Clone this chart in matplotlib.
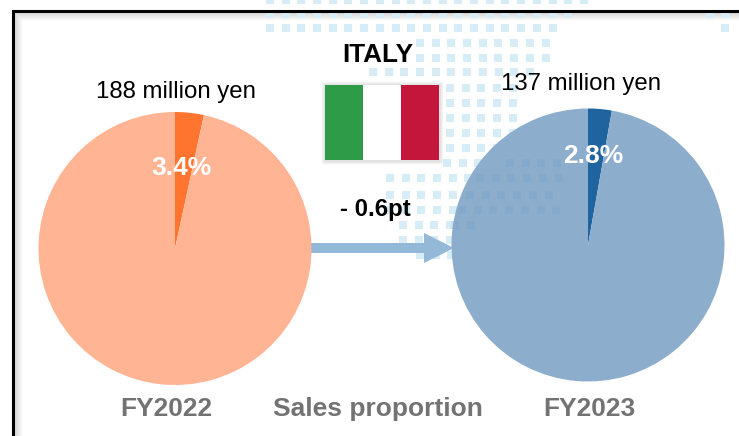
import numpy as np
import matplotlib
matplotlib.use('Agg')
import matplotlib.pyplot as plt
from matplotlib.patches import Rectangle, Polygon

plt.rcParams['font.family'] = ['Liberation Sans', 'DejaVu Sans']

# sales share of Italy, remainder is the rest of the group
share_2022 = [3.4, 96.6]
share_2023 = [2.8, 97.2]
colors_2022 = ['#FF7530', '#FFB594']
colors_2023 = ['#1F649F', '#8DADCD']
label_share_2022 = '3.4%'
label_share_2023 = '2.8%'
label_sales_2022 = '188 million yen'
label_sales_2023 = '137 million yen'
label_years = ['FY2022', 'FY2023']
flag_colors = ['#2E9B48', '#FFFFFF', '#C3163A']

# background map dots: row y, first x, last x
map_rows = [
    (0, 270, 590), (14, 270, 578), (28, 270, 560), (43, 420, 560), (58, 420, 560),
    (72, 373, 530), (88, 450, 517), (103, 450, 517), (118, 450, 517), (133, 450, 517),
    (148, 450, 517), (163, 447, 560), (178, 390, 560), (195, 390, 560), (210, 390, 560),
    (225, 403, 480), (240, 403, 470), (255, 420, 455),
]

fig = plt.figure(figsize=(7.39, 4.36), dpi=100)
ax = fig.add_axes([0, 0, 1, 1])

# soft shadow inside the frame
for i in range(9):
    shade = str(0.83 + i * 0.02)
    ax.plot([14 + i, 14 + i], [12 + i, 436], color=shade, lw=0.8, zorder=1)
    ax.plot([14 + i, 739], [12 + i, 12 + i], color=shade, lw=0.8, zorder=1)

# map dots behind everything
for y, x0, x1 in map_rows:
    xs = np.arange(x0, x1 + 1, 15.7)
    ax.scatter(xs, [y] * len(xs), marker='s', s=38, color='#D6ECF7', linewidths=0, zorder=2)
ax.scatter([710, 725, 725], [14, 14, 28], marker='s', s=38, color='#D6ECF7', linewidths=0, zorder=2)

ax.plot([13, 13, 739], [436, 11, 11], color='black', lw=2.2, zorder=3, solid_joinstyle='miter')

# arrow between the pies
ax.add_patch(Rectangle((308, 243), 118, 10, color='#94B9D8', lw=0, zorder=2))
ax.add_patch(Polygon([(424, 233), (454, 248), (424, 263)], color='#94B9D8', lw=0, zorder=2))

# y axis is flipped below, so start at -90 and run counterclockwise to get clockwise from the top
ax.pie(share_2022, colors=colors_2022, startangle=-90, counterclock=True,
       center=(175, 248.5), radius=136.5, frame=True, wedgeprops={'linewidth': 0, 'zorder': 4})
ax.pie(share_2023, colors=colors_2023, startangle=-90, counterclock=True,
       center=(588, 245), radius=136.5, frame=True, wedgeprops={'linewidth': 0, 'zorder': 4})

# map dots that shine through the right pie
for y, x0, x1 in [(163, 510, 560), (178, 480, 560), (195, 470, 560), (210, 462, 560), (225, 455, 480)]:
    xs = np.arange(x0, x1 + 1, 15.7)
    ax.scatter(xs, [y] * len(xs), marker='s', s=38, color='#4F8FC4', alpha=0.13, linewidths=0, zorder=4.5)

# flag
for i, c in enumerate(flag_colors):
    ax.add_patch(Rectangle((325 + i * 38, 85), 38, 75, color=c, lw=0, zorder=5))
for i in range(4):
    ax.add_patch(Rectangle((325 - i, 85 - i), 114 + 2 * i, 75 + 2 * i, fill=False,
                           ec='#999999', lw=1, alpha=0.25 - i * 0.05, zorder=4))

ax.text(175.5, 92, label_sales_2022, fontsize=17.3, ha='center', va='center', color='black', zorder=6)
ax.text(581, 84, label_sales_2023, fontsize=17.3, ha='center', va='center', color='black', zorder=6)
ax.text(377.5, 55, 'ITALY', fontsize=18.8, fontweight='bold', ha='center', va='center', zorder=6)
ax.text(375.5, 209, '- 0.6pt', fontsize=17.3, fontweight='bold', ha='center', va='center', zorder=6)
ax.text(181, 168, label_share_2022, fontsize=19, fontweight='bold', color='white', ha='center', va='center', zorder=6)
ax.text(593, 156, label_share_2023, fontsize=19, fontweight='bold', color='white', ha='center', va='center', zorder=6)

ax.text(166, 409, label_years[0], fontsize=19, fontweight='bold', color='#737373', ha='center', va='center', zorder=6)
ax.text(378, 409, 'Sales proportion', fontsize=19, fontweight='bold', color='#737373', ha='center', va='center', zorder=6)
ax.text(589.5, 409, label_years[1], fontsize=19, fontweight='bold', color='#737373', ha='center', va='center', zorder=6)

ax.set_xlim(0, 739)
ax.set_ylim(436, 0)
ax.set_aspect('auto')
ax.axis('off')

fig.savefig('out.png', dpi=100)
